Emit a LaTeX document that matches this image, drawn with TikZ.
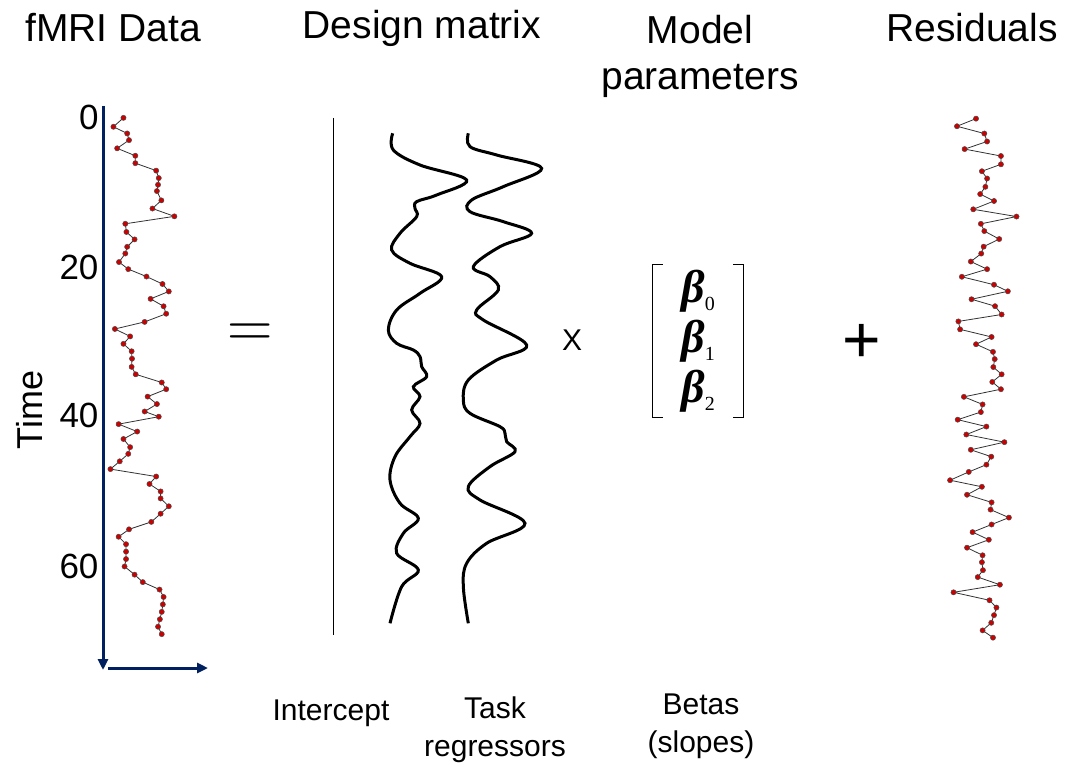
\documentclass[tikz,border=0pt]{standalone}
\usetikzlibrary{arrows.meta}
\usepackage{fontspec}
\setmainfont{Liberation Sans}
\newfontfamily\bserif{Liberation Serif}
\newcommand{\bsub}[1]{{\bserif\bfseries\itshape β}\raisebox{-0.35ex}{\bserif\fontsize{20}{20}\selectfont #1}}
\begin{document}
\begin{tikzpicture}[x=1pt,y=-1pt,
  title/.style={font=\fontsize{39}{46}\selectfont, align=center},
  lab/.style={font=\fontsize{30}{38}\selectfont, align=center},
  tick/.style={font=\fontsize{35}{38}\selectfont, anchor=east},
  axis/.style={draw={rgb,255:red,0;green,32;blue,96}, fill={rgb,255:red,0;green,32;blue,96}, line width=3pt},
  ts/.style={line width=0.8pt, black!80, mark=*, mark size=2.6pt, mark options={fill=red!80!black, draw=black!70, line width=0.5pt}},
  wave/.style={line width=3pt, smooth, tension=0.6}]
\useasboundingbox (0,0) rectangle (1070,781);
\node[title] (t1) at (113,28) {fMRI Data};
\node[title] (t2) at (422,28) {Design matrix};
\node[title] (t3) at (700,56) {Model\\parameters};
\node[title] (t4) at (972,28) {Residuals};
\node[tick] (n0) at (102,117) {0};
\node[tick] (n20) at (102,267) {20};
\node[tick] (n40) at (102,415) {40};
\node[tick] (n60) at (102,566) {60};
\node[font=\fontsize{36}{40}\selectfont, rotate=90] (time) at (30,410) {Time};
\coordinate (ya) at (103,106);
\coordinate (yb) at (103,670);
\coordinate (xa) at (108,668);
\coordinate (xb) at (208,668);
\draw[axis,-{Triangle[length=11pt,width=10pt]}] (ya) -- (yb);
\draw[axis,-{Triangle[length=11pt,width=10pt]}] (xa) -- (xb);
\begin{scope}[shift={(90,100)}, x=0.3717pt, y=-0.3717pt]
\draw[ts] plot coordinates {(90,48)(63,72)(100,90)(105,108)(73,130)(122,150)(122,170)(178,190)(185,210)(183,228)(180,245)(192,270)(168,292)(227,313)(95,333)(98,355)(120,375)(100,395)(95,413)(78,436)(103,455)(152,475)(195,495)(212,515)(163,535)(198,555)(205,575)(147,597)(67,616)(108,636)(90,656)(112,676)(113,696)(112,718)(123,738)(193,760)(205,778)(155,798)(180,818)(147,838)(185,852)(77,872)(127,892)(90,912)(108,934)(103,952)(80,972)(55,993)(178,1013)(160,1033)(190,1053)(190,1072)(212,1093)(190,1113)(165,1135)(105,1155)(77,1175)(97,1195)(97,1215)(97,1235)(93,1255)(120,1277)(142,1297)(187,1317)(198,1337)(196,1357)(193,1377)(188,1397)(183,1417)(193,1437)};
\end{scope}
\node[font=\huge, scale=3.2, xscale=0.95] (eq) at (250,336) {$=$};
\coordinate (la) at (333,118);
\coordinate (lb) at (333,635);
\draw[line width=1pt] (la) -- (lb);
\begin{scope}[shift={(370,120)}, x=0.3333pt, y=-0.3333pt]
\draw[wave] plot coordinates {(68,40)(70,90)(150,135)(290,180)(200,225)(140,245)(135,265)(140,290)(90,340)(65,390)(120,430)(215,470)(150,520)(80,570)(55,630)(80,670)(130,690)(150,710)(155,740)(170,770)(130,800)(150,830)(125,870)(150,910)(120,950)(75,1010)(60,1080)(90,1150)(145,1195)(100,1240)(80,1300)(145,1350)(95,1400)(60,1510)};
\draw[wave] plot coordinates {(295,40)(300,80)(380,105)(515,145)(400,200)(305,240)(300,275)(400,305)(485,340)(390,380)(310,440)(360,470)(385,510)(320,570)(340,600)(470,675)(380,720)(295,780)(280,840)(300,880)(390,920)(405,940)(410,965)(435,995)(360,1040)(295,1100)(330,1140)(465,1210)(350,1270)(290,1330)(280,1400)(295,1510)};
\end{scope}
\node[font=\fontsize{30}{32}\selectfont] (times) at (572,340) {X};
\node[font=\fontsize{46}{48}\selectfont, align=left, inner sep=0pt, minimum width=90pt, minimum height=152pt] (beta) at (698,341) {\bsub{0}\\[2pt]\bsub{1}\\[2pt]\bsub{2}};
\draw[line width=1.2pt] ([xshift=10pt]beta.north west) -- (beta.north west) -- (beta.south west) -- ([xshift=10pt]beta.south west);
\draw[line width=1.2pt] ([xshift=-10pt]beta.north east) -- (beta.north east) -- (beta.south east) -- ([xshift=-10pt]beta.south east);
\node[font=\fontsize{66}{66}\selectfont] (plus) at (862,343) {+};
\begin{scope}[shift={(930,110)}, x=0.346pt, y=-0.346pt]
\draw[ts] plot coordinates {(133,25)(78,47)(157,68)(165,91)(100,113)(205,133)(205,157)(150,177)(165,198)(160,222)(145,243)(185,263)(125,287)(250,308)(147,329)(157,350)(200,373)(155,395)(148,415)(118,438)(165,460)(92,482)(185,505)(225,524)(120,547)(188,567)(207,591)(82,611)(87,634)(178,656)(133,677)(182,699)(187,720)(183,743)(207,764)(180,786)(205,807)(98,829)(152,851)(147,873)(80,895)(163,915)(105,938)(215,960)(118,982)(177,1002)(163,1025)(112,1046)(58,1070)(150,1089)(107,1112)(178,1134)(175,1155)(228,1178)(178,1198)(123,1220)(170,1242)(107,1265)(152,1287)(150,1307)(153,1330)(138,1350)(202,1372)(68,1394)(172,1417)(192,1438)(185,1460)(177,1482)(152,1504)(182,1525)};
\end{scope}
\node[lab] (l1) at (331,713) {Intercept};
\node[lab] (l2) at (495,730) {Task\\regressors};
\node[lab] (l3) at (701,726) {Betas\\(slopes)};
\end{tikzpicture}
\end{document}
